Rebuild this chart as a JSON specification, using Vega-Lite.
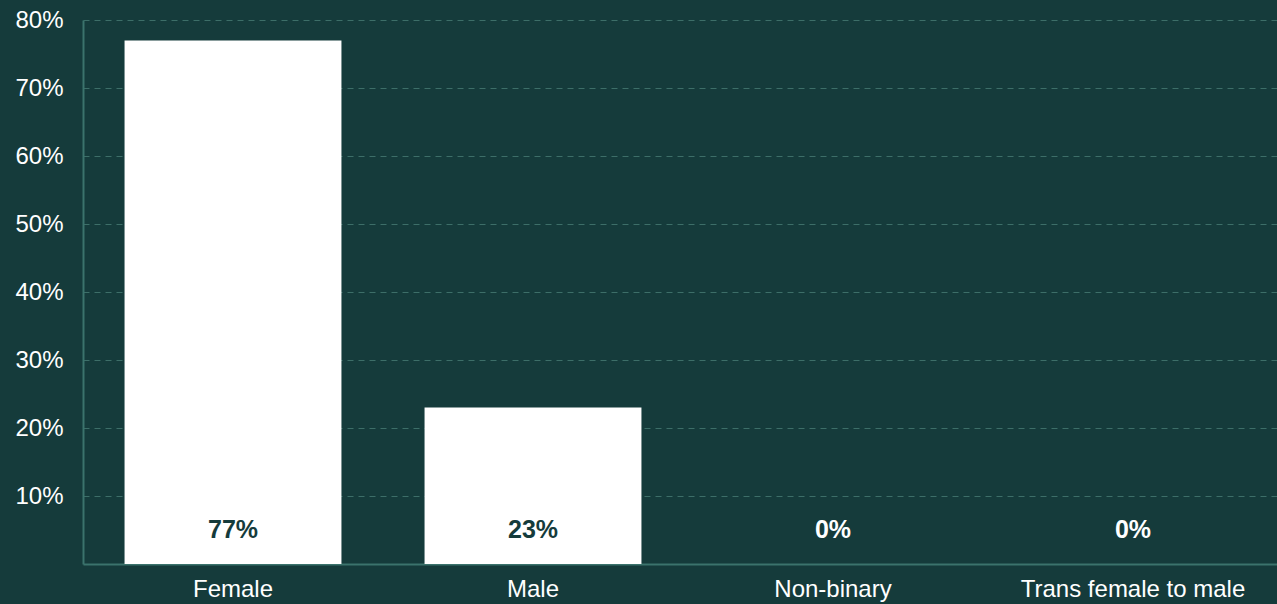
{
  "$schema": "https://vega.github.io/schema/vega-lite/v6.json",
  "autosize": {"type": "none"},
  "padding": {"left": 83, "top": 20, "right": 0, "bottom": 40},
  "width": 1200,
  "height": 544,
  "background": "#153b3b",
  "config": {
    "view": {"stroke": null},
    "font": "Liberation Sans"
  },
  "data": {
    "values": [
      {"gender": "Female", "share": 0.77},
      {"gender": "Male", "share": 0.23},
      {"gender": "Non-binary", "share": 0},
      {"gender": "Trans female to male", "share": 0}
    ]
  },
  "encoding": {
    "x": {
      "field": "gender",
      "type": "nominal",
      "sort": null,
      "scale": {"paddingInner": 0.277, "paddingOuter": 0.1385},
      "axis": {
        "title": null,
        "labelAngle": 0,
        "labelColor": "#ffffff",
        "labelFontSize": 24,
        "labelPadding": 13,
        "labelLimit": 0,
        "ticks": false,
        "domainColor": "#3b736c",
        "domainWidth": 2,
        "grid": false
      }
    }
  },
  "layer": [
    {
      "mark": {"type": "bar", "color": "#ffffff"},
      "encoding": {
        "y": {
          "field": "share",
          "type": "quantitative",
          "scale": {"domain": [0, 0.8], "nice": false},
          "axis": {
            "title": null,
            "values": [0.1, 0.2, 0.3, 0.4, 0.5, 0.6, 0.7, 0.8],
            "format": ".0%",
            "labelColor": "#ffffff",
            "labelFontSize": 24,
            "labelPadding": 20,
            "ticks": false,
            "domainColor": "#3b736c",
            "domainWidth": 2,
            "grid": true,
            "gridColor": "#3d6e68",
            "gridDash": [6, 5],
            "gridWidth": 1
          }
        }
      }
    },
    {
      "mark": {"type": "text", "fontSize": 25, "fontWeight": "bold", "baseline": "middle", "dy": -34},
      "encoding": {
        "y": {"datum": 0, "type": "quantitative"},
        "text": {"field": "share", "type": "quantitative", "format": ".0%"},
        "color": {
          "condition": {"test": "datum.share > 0", "value": "#153b3b"},
          "value": "#ffffff"
        }
      }
    }
  ]
}
